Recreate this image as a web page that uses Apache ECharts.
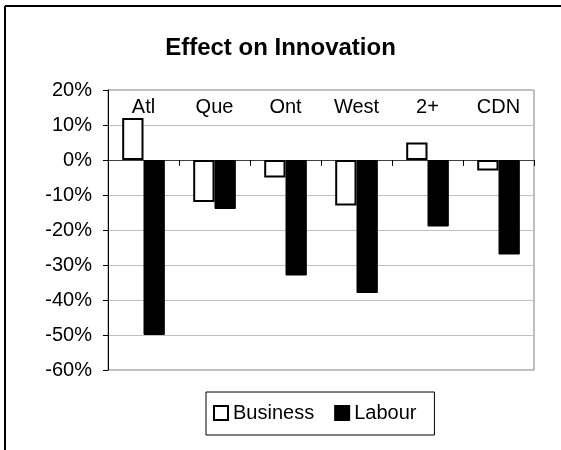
<!DOCTYPE html>
<html>
<head>
<meta charset="utf-8">
<script src="https://cdn.jsdelivr.net/npm/echarts@6/dist/echarts.min.js"></script>
<style>
  html, body { margin: 0; padding: 0; background: #fff; }
  #chart { width: 561px; height: 450px; }
</style>
</head>
<body>
<div id="chart"></div>
<script>
// 数据：各地区对创新的影响（%）
const categories = ['Atl', 'Que', 'Ont', 'West', '2+', 'CDN']
const business = [12, -12, -5, -13, 5, -3]
const labour = [-50, -14, -33, -38, -19, -27]

const font = 'Arial, "Liberation Sans", sans-serif'

const chart = echarts.init(document.getElementById('chart'))

chart.setOption({
  backgroundColor: '#fff',
  animation: false,
  // 外框：只露出上边和左边
  graphic: [{
    type: 'line',
    shape: { x1: 5, y1: 6, x2: 561, y2: 6 },
    style: { stroke: '#000', lineWidth: 2 },
    silent: true
  }, {
    type: 'line',
    shape: { x1: 5, y1: 6, x2: 5, y2: 450 },
    style: { stroke: '#000', lineWidth: 2 },
    silent: true
  }],
  title: {
    text: 'Effect on Innovation',
    left: 'center',
    top: 36,
    padding: 0,
    textStyle: { fontFamily: font, fontSize: 24, fontWeight: 'bold', color: '#000' }
  },
  legend: {
    data: ['Business', 'Labour'],
    left: 206,
    top: 392,
    padding: [11, 18, 12, 7],
    icon: 'rect',
    itemWidth: 14,
    itemHeight: 14,
    itemGap: 20,
    borderColor: '#000',
    borderWidth: 1,
    textStyle: { fontFamily: font, fontSize: 20, color: '#000' }
  },
  grid: {
    left: 108, right: 27, top: 90, bottom: 80,
    show: true,
    borderColor: '#808080',
    borderWidth: 1
  },
  xAxis: [{
    type: 'category',
    data: categories,
    axisLine: { onZero: true, lineStyle: { color: '#404040', width: 1 } },
    axisTick: { show: true, length: 6, lineStyle: { color: '#000' } },
    axisLabel: { show: false }
  }, {
    type: 'category',
    data: categories,
    position: 'top',
    axisLine: { show: false },
    axisTick: { show: false },
    axisLabel: { inside: true, margin: 7, fontFamily: font, fontSize: 20, color: '#000' }
  }],
  yAxis: {
    type: 'value',
    min: -60,
    max: 20,
    interval: 10,
    axisLine: { show: true, lineStyle: { color: '#000' } },
    axisTick: { show: true, length: 5, lineStyle: { color: '#000' } },
    axisLabel: { formatter: '{value}%', margin: 16, fontFamily: font, fontSize: 20, color: '#000' },
    splitLine: { lineStyle: { color: '#c0c0c0', width: 1 } }
  },
  series: [{
    name: 'Business',
    type: 'bar',
    data: business,
    barGap: '0%',
    barCategoryGap: '40%',
    itemStyle: { color: '#fff', borderColor: '#000', borderWidth: 2 }
  }, {
    name: 'Labour',
    type: 'bar',
    data: labour,
    barGap: '0%',
    barCategoryGap: '40%',
    itemStyle: { color: '#000', borderColor: '#000', borderWidth: 1 }
  }]
})

window.addEventListener('resize', () => chart.resize())
</script>
</body>
</html>
